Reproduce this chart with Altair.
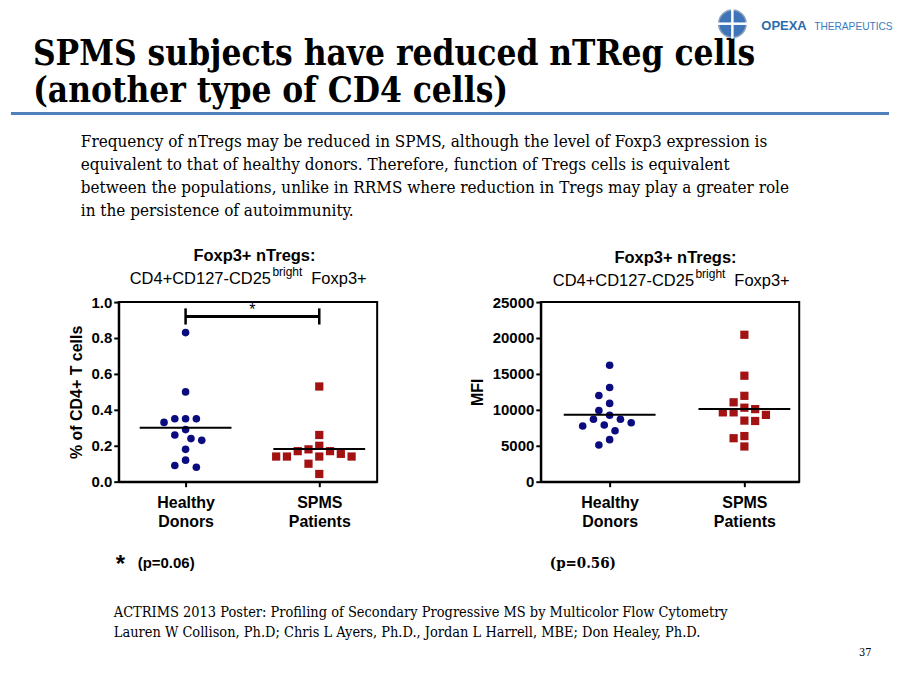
import json
import altair as alt
import pandas as pd

# ---------------- data ----------------
groups = ["Healthy Donors", "SPMS Patients"]
freq_healthy = [0.83, 0.50, 0.35, 0.35, 0.35, 0.33, 0.29, 0.26, 0.24, 0.23, 0.18, 0.12, 0.09, 0.08]
freq_spms = [0.53, 0.26, 0.20, 0.18, 0.17, 0.17, 0.155, 0.14, 0.14, 0.14, 0.14, 0.10, 0.043]
mfi_healthy = [16200, 13100, 12000, 10900, 9900, 9250, 8700, 8700, 8200, 7900, 7750, 7100, 5850, 5100]
mfi_spms = [20450, 14750, 11950, 11050, 10300, 10100, 9650, 9650, 9300, 8500, 8450, 6350, 6050, 4900]
freq_ticks = [0.0, 0.2, 0.4, 0.6, 0.8, 1.0]
mfi_ticks = [0, 5000, 10000, 15000, 20000, 25000]
freq_title = "% of CD4+ T cells"
mfi_title = "MFI"
panel_title = "Foxp3+ nTregs:"
panel_sub = ["CD4+CD127-CD25", "bright", " Foxp3+"]
p_values = ["(p=0.06)", "(p=0.56)"]

slide_title = ["SPMS subjects have reduced nTReg cells", "(another type of CD4 cells)"]
paragraph = [
    "Frequency of nTregs may be reduced in SPMS, although the level of Foxp3 expression is",
    "equivalent to that of healthy donors.  Therefore, function of Tregs cells is equivalent",
    "between the populations, unlike in RRMS where reduction in Tregs may play a greater role",
    "in the persistence of autoimmunity.",
]
footnote = [
    "ACTRIMS 2013 Poster: Profiling of Secondary Progressive MS by Multicolor Flow Cytometry",
    "Lauren W Collison, Ph.D; Chris L Ayers, Ph.D., Jordan L Harrell, MBE; Don Healey, Ph.D.",
]

# ---------------- style / geometry ----------------
W, H = 259, 180
OX, OY = 118, 301          # page position of left plot area
NAVY = "#0B0B80"
RED = "#A31212"
SANS = "Liberation Sans"
SERIF = "'DejaVu Serif Condensed', 'DejaVu Serif', serif"
LX = [-0.5, 1.433]
RX = [-0.511, 1.407]


def swarm(vals, ypx, xpx, step=5.4, diam=10.0):
    order = sorted(range(len(vals)), key=lambda i: -vals[i])
    cands = [0]
    for k in range(1, 15):
        cands += [-k, k]
    placed, off = [], [0.0] * len(vals)
    for i in order:
        y = vals[i] * ypx
        x = 0.0
        for k in cands:
            x = k * step
            if all((x - a) ** 2 + (y - b) ** 2 >= diam ** 2 for a, b in placed):
                break
        placed.append((x, y))
        off[i] = x / xpx
    return off


def make_df(h, s, ypx, xpx):
    rows = []
    for gi, vals in enumerate([h, s]):
        for v, o in zip(vals, swarm(vals, ypx, xpx)):
            rows.append({"g": gi, "group": groups[gi], "value": v, "xpos": gi + o})
    return pd.DataFrame(rows)


def txt(s, px, py, size, font=SANS, weight="normal", color="black", align="left",
        baseline="alphabetic", **kw):
    return alt.Chart(alt.Data(values=[{}])).mark_text(
        text=s, fontSize=size, font=font, fontWeight=weight, color=color,
        align=align, baseline=baseline, **kw
    ).encode(x=alt.value(px - OX), y=alt.value(py - OY))


label_expr = "datum.value == 0 ? %s : %s" % (json.dumps(groups[0].split()), json.dumps(groups[1].split()))


def panel(df, xdom, ydom, yticks, yfmt, ytitle, title_x, step_px):
    xs = alt.Scale(domain=xdom, nice=False, zero=False)
    ys = alt.Scale(domain=ydom, nice=False, zero=False)
    xaxis = alt.Axis(values=[0, 1], labelExpr=label_expr, title=None, grid=False,
                     labelFontSize=16, labelLineHeight=19, labelPadding=8, tickSize=5)
    yaxis = alt.Axis(values=yticks, format=yfmt, title=ytitle, grid=False,
                     labelFontSize=15, tickSize=5, labelPadding=2,
                     titleFontSize=16, titleX=title_x, titleY=H / 2,
                     titleAngle=-90, titleBaseline="middle", titleAlign="center")
    base = alt.Chart(df)
    circ = base.transform_filter("datum.g == 0").mark_point(
        shape="circle", filled=True, size=58, color=NAVY, opacity=1
    ).encode(x=alt.X("xpos:Q", scale=xs, axis=xaxis), y=alt.Y("value:Q", scale=ys, axis=yaxis))
    sq = base.transform_filter("datum.g == 1").mark_point(
        shape="square", filled=True, size=68, color=RED, opacity=1
    ).encode(x=alt.X("xpos:Q", scale=xs, axis=xaxis), y=alt.Y("value:Q", scale=ys, axis=yaxis))
    half = 46 / step_px
    means = base.transform_aggregate(m="mean(value)", groupby=["g"]).transform_calculate(
        x1="datum.g - %f" % half, x2="datum.g + %f" % half
    ).mark_rule(color="black", strokeWidth=2).encode(
        x=alt.X("x1:Q", scale=xs, axis=xaxis), x2="x2:Q", y=alt.Y("m:Q", scale=ys, axis=yaxis)
    )
    return [circ, sq, means], xs, ys, xaxis, yaxis


left_df = make_df(freq_healthy, freq_spms, 180.0, 134.0)
right_df = make_df(mfi_healthy, mfi_spms, 180.0 / 25000, 135.0)

l_layers, lxs, lys, lxa, lya = panel(left_df, LX, [0, 1], freq_ticks, ".1f", freq_title, 76 - OX, 134.0)
r_layers, rxs, rys, rxa, rya = panel(right_df, RX, [0, 25000], mfi_ticks, "d", mfi_title, 478 - 541, 135.0)

# significance bracket on the left panel
sig = alt.Chart(alt.Data(values=[{}]))
bracket = [
    sig.mark_rule(color="black", strokeWidth=3).encode(
        x=alt.X(datum=0, scale=lxs, axis=lxa), x2=alt.datum(1), y=alt.Y(datum=0.92, scale=lys, axis=lya)),
    sig.mark_rule(color="black", strokeWidth=2.5).encode(
        x=alt.X(datum=0, scale=lxs, axis=lxa), y=alt.Y(datum=0.875, scale=lys, axis=lya), y2=alt.datum(0.965)),
    sig.mark_rule(color="black", strokeWidth=2.5).encode(
        x=alt.X(datum=1, scale=lxs, axis=lxa), y=alt.Y(datum=0.875, scale=lys, axis=lya), y2=alt.datum(0.965)),
    sig.mark_text(text="*", fontSize=16, font=SANS, color="black", baseline="alphabetic").encode(
        x=alt.X(datum=0.5, scale=lxs, axis=lxa), y=alt.Y(datum=0.93, scale=lys, axis=lya)),
]

# slide decorations (page coordinates)
deco = [
    # invisible rule spanning the page so the drawing keeps the page's bounds
    alt.Chart(alt.Data(values=[{}])).mark_rule(opacity=0, strokeWidth=0).encode(
        x=alt.value(0 - OX), x2=alt.value(900 - OX), y=alt.value(0 - OY), y2=alt.value(675 - OY)),
    # title underline
    alt.Chart(alt.Data(values=[{}])).mark_rule(color="#4F81BD", strokeWidth=3).encode(
        x=alt.value(10 - OX), x2=alt.value(890 - OX), y=alt.value(112 - OY)),
    txt(slide_title[0], 32, 63, 35, font=SERIF, weight="bold"),
    txt(slide_title[1], 32, 100, 35, font=SERIF, weight="bold"),
    txt(paragraph, 80, 146, 17, font=SERIF, lineHeight=23),
    txt(footnote, 113, 617, 14.5, font=SERIF, lineHeight=20),
    txt("37", 860, 656, 11, font=SERIF),
    # logo
    alt.Chart(alt.Data(values=[{}])).mark_point(shape="circle", filled=True, size=760,
                                                 color="#3F74B8", opacity=1, stroke="#8FA3B8",
                                                 strokeWidth=1.5).encode(
        x=alt.value(733 - OX), y=alt.value(22 - OY)),
    alt.Chart(alt.Data(values=[{}])).mark_rule(color="white", strokeWidth=2.5).encode(
        x=alt.value(733 - OX), y=alt.value(7 - OY), y2=alt.value(37 - OY)),
    alt.Chart(alt.Data(values=[{}])).mark_rule(color="white", strokeWidth=2.5).encode(
        x=alt.value(718 - OX), x2=alt.value(748 - OX), y=alt.value(22 - OY)),
    txt("OPEXA", 762, 28, 13, weight="bold", color="#2C6DAE"),
    txt("THERAPEUTICS", 815, 28, 10.2, color="#3B7BBE"),
    # panel titles
    txt(panel_title, 254, 260, 16.5, weight="bold", align="center"),
    txt(panel_sub[0], 129, 283, 16.5),
    txt(panel_sub[1], 272, 275, 12),
    txt(panel_sub[2], 311, 283, 16.5),
    txt(panel_title, 676, 262, 16.5, weight="bold", align="center"),
    txt(panel_sub[0], 553, 285, 16.5),
    txt(panel_sub[1], 696, 277, 12),
    txt(panel_sub[2], 735, 285, 16.5),
    # p-values
    txt("*", 115, 572, 24, weight="bold"),
    txt(p_values[0], 137, 568, 15, weight="bold"),
    txt(p_values[1], 550, 568, 15, font=SERIF, weight="bold"),
]

left = alt.layer(*l_layers, *bracket, *deco).properties(width=W, height=H)
right = alt.layer(*r_layers).properties(width=W, height=H)

chart = alt.hconcat(left, right, spacing=541 - OX - W, bounds="flush").properties(
    padding=0, background="white"
).configure_view(stroke="black", strokeWidth=2).configure_axis(
    domainColor="black", domainWidth=2, tickColor="black", tickWidth=2,
    labelFont=SANS, labelFontWeight="bold", labelColor="black",
    titleFont=SANS, titleFontWeight="bold", titleColor="black",
)

chart.save("out.html", embed_options={"renderer": "svg", "actions": False})
